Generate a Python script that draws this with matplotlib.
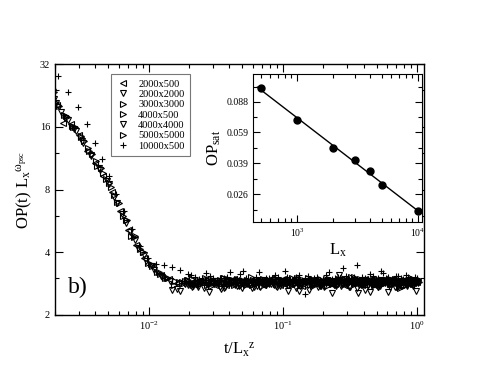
import matplotlib

matplotlib.use("Agg")
import matplotlib.pyplot as plt
import numpy as np
from matplotlib.ticker import FixedLocator, FixedFormatter, NullFormatter, LogLocator

plt.rcParams["font.family"] = ["Liberation Serif", "DejaVu Serif"]
plt.rcParams["mathtext.default"] = "regular"

# ---- main panel data: t/Lx^z and OP(t) Lx^omega for each lattice ----
labels = ["2000x500", "2000x2000", "3000x3000", "4000x500",
          "4000x4000", "5000x5000", "10000x500"]
markers = ["<", "v", ">", ">", "v", ">", "+"]

x_2000x500 = [0.00207, 0.00228, 0.00262, 0.00300, 0.00345, 0.00400, 0.00460, 0.00530,
              0.00610, 0.00700, 0.00810, 0.00930, 0.0107, 0.0123, 0.0142,
              0.0165, 0.019, 0.022, 0.025, 0.029, 0.033, 0.038, 0.043, 0.049, 0.056,
              0.063, 0.071, 0.080, 0.090, 0.101, 0.113, 0.126, 0.140, 0.156, 0.173,
              0.192, 0.212, 0.234, 0.258, 0.284, 0.312, 0.342, 0.375, 0.410, 0.448,
              0.489, 0.533, 0.580, 0.630, 0.684, 0.742, 0.804, 0.870, 0.940, 1.01]
y_2000x500 = [20.4, 16.7, 16.5, 14.6, 12.3, 10.7, 9.3, 7.8, 6.3, 5.1, 4.35, 3.75, 3.38,
              3.10, 2.97,
              2.86, 2.92, 2.80, 2.95, 2.84, 2.90, 2.78, 2.97, 2.88, 2.83, 2.93, 2.79,
              2.91, 2.86, 2.99, 2.82, 2.89, 2.76, 2.94, 2.87, 2.81, 2.96, 2.85, 2.90,
              2.78, 2.93, 2.88, 2.83, 2.98, 2.86, 2.80, 2.91, 2.87, 2.95, 2.82, 2.89,
              2.84, 2.92, 2.86, 2.88]
x_2000x500_late = [0.0205, 0.0235, 0.027, 0.031, 0.0355, 0.0405, 0.046, 0.052, 0.0595,
                   0.067, 0.0755, 0.085, 0.095, 0.107, 0.119, 0.133, 0.148, 0.164, 0.182,
                   0.202, 0.223, 0.246, 0.271, 0.298, 0.327, 0.358, 0.392, 0.429, 0.468,
                   0.51, 0.555, 0.605, 0.657, 0.713, 0.773, 0.837, 0.905, 0.975]
y_2000x500_late = [2.83, 2.91, 2.87, 2.79, 2.94, 2.85, 2.90, 2.81, 2.96, 2.88, 2.84, 2.92,
                   2.78, 2.89, 2.95, 2.83, 2.87, 2.91, 2.80, 2.93, 2.86, 2.82, 2.97, 2.88,
                   2.84, 2.90, 2.79, 2.94, 2.87, 2.83, 2.91, 2.85, 2.96, 2.81, 2.89, 2.93,
                   2.84, 2.90]

x_2000x2000 = [0.00198, 0.00222, 0.00250, 0.00285, 0.00325, 0.00372, 0.00425, 0.00487,
               0.00555, 0.00635, 0.00728, 0.00835, 0.00955, 0.0109, 0.0125, 0.0148,
               0.017, 0.0198, 0.0228, 0.026, 0.0298, 0.034, 0.0388, 0.044, 0.050,
               0.057, 0.064, 0.072, 0.081, 0.091, 0.102, 0.114, 0.127, 0.142, 0.158,
               0.175, 0.194, 0.215, 0.237, 0.261, 0.287, 0.315, 0.345, 0.378, 0.413,
               0.451, 0.492, 0.536, 0.583, 0.633, 0.687, 0.745, 0.807, 0.873, 0.943,
               1.02]
y_2000x2000 = [21.8, 18.8, 17.2, 15.2, 13.4, 11.6, 10.1, 8.8, 7.4, 6.1, 5.0, 4.2, 3.62,
               3.30, 3.05, 2.63,
               2.62, 2.78, 2.85, 2.70, 2.88, 2.74, 2.91, 2.80, 2.69, 2.86, 2.77, 2.93,
               2.82, 2.72, 2.88, 2.79, 2.95, 2.84, 2.63, 2.87, 2.76, 2.90, 2.81, 3.12,
               2.86, 2.74, 2.92, 2.83, 2.65, 2.89, 2.78, 2.94, 2.84, 2.71, 2.88, 2.80,
               2.91, 2.85, 2.76, 2.87]
x_2000x2000_late = [0.0212, 0.0243, 0.0278, 0.0318, 0.0363, 0.0413, 0.0468, 0.053,
                    0.0605, 0.068, 0.0765, 0.086, 0.0965, 0.1085, 0.121, 0.135, 0.150,
                    0.166, 0.184, 0.204, 0.226, 0.249, 0.274, 0.301, 0.330, 0.362, 0.396,
                    0.433, 0.472, 0.515, 0.560, 0.610, 0.662, 0.718, 0.778, 0.842, 0.910,
                    0.982]
y_2000x2000_late = [2.74, 2.86, 2.80, 2.91, 2.70, 2.84, 2.77, 2.89, 2.82, 2.73, 2.87,
                    2.79, 2.92, 2.60, 2.85, 2.76, 2.90, 2.81, 2.72, 2.88, 2.83, 2.75,
                    2.93, 2.80, 2.86, 2.55, 2.89, 2.78, 2.84, 2.71, 2.91, 2.82, 2.87,
                    2.76, 2.90, 2.79, 2.85, 2.62]

x_3000x3000 = [0.00196, 0.00215, 0.00240, 0.00272, 0.00310, 0.00352, 0.00402, 0.00460,
               0.00525, 0.00600, 0.00688, 0.00790, 0.00905, 0.0104, 0.0119, 0.0137,
               0.0158, 0.0182, 0.021, 0.024, 0.0275, 0.0315, 0.036, 0.041, 0.0465,
               0.053, 0.060, 0.068, 0.077, 0.087, 0.098, 0.110, 0.123, 0.137, 0.153,
               0.170, 0.189, 0.209, 0.231, 0.255, 0.281, 0.309, 0.339, 0.371, 0.406,
               0.444, 0.485, 0.529, 0.576, 0.626, 0.680, 0.738, 0.800, 0.866, 0.936,
               1.005]
y_3000x3000 = [23.5, 20.2, 18.0, 16.0, 14.4, 12.6, 11.0, 9.6, 8.2, 6.9, 5.7, 4.8, 4.0,
               3.50, 3.20, 3.00,
               2.92, 2.86, 2.98, 2.83, 2.94, 2.88, 3.01, 2.85, 2.93, 2.80, 2.96, 2.89,
               2.84, 3.00, 2.87, 2.93, 2.81, 2.97, 2.90, 2.85, 2.99, 2.88, 2.94, 2.83,
               3.02, 2.89, 2.86, 2.95, 2.80, 2.92, 2.98, 2.87, 2.84, 2.96, 2.90, 2.71,
               2.93, 2.88, 2.97, 2.91]
x_3000x3000_late = [0.0198, 0.0228, 0.0262, 0.030, 0.0343, 0.0392, 0.0447, 0.0508,
                    0.0578, 0.0655, 0.074, 0.0835, 0.094, 0.1055, 0.118, 0.1315, 0.146,
                    0.162, 0.18, 0.20, 0.221, 0.244, 0.268, 0.295, 0.324, 0.355, 0.389,
                    0.425, 0.464, 0.506, 0.551, 0.600, 0.652, 0.708, 0.768, 0.832, 0.900,
                    0.970]
y_3000x3000_late = [2.95, 2.88, 3.00, 2.85, 2.93, 2.98, 2.87, 2.91, 3.03, 2.84, 2.96,
                    2.89, 2.94, 2.86, 3.01, 2.90, 2.83, 2.97, 2.92, 2.87, 2.99, 2.85,
                    2.93, 2.89, 3.04, 2.86, 2.95, 2.91, 2.84, 2.98, 2.88, 2.94, 2.82,
                    2.96, 2.90, 2.87, 3.00, 2.92]

x_4000x500 = [0.00200, 0.00232, 0.00268, 0.00310, 0.00358, 0.00415, 0.00480, 0.00555,
              0.00642, 0.00742, 0.00858, 0.00992, 0.0115, 0.0133,
              0.0155, 0.0178, 0.0205, 0.0235, 0.027, 0.0308, 0.0352, 0.040, 0.0455,
              0.0518, 0.0588, 0.0665, 0.075, 0.0845, 0.095, 0.107, 0.120, 0.134, 0.150,
              0.167, 0.186, 0.206, 0.228, 0.252, 0.278, 0.306, 0.336, 0.368, 0.403,
              0.441, 0.482, 0.526, 0.573, 0.623, 0.677, 0.735, 0.797, 0.863, 0.933, 1.0]
y_4000x500 = [21.0, 18.2, 16.2, 14.3, 12.3, 10.4, 9.0, 7.5, 6.0, 4.8, 4.15, 3.55, 3.20,
              3.00,
              2.80, 2.89, 2.84, 2.95, 2.78, 2.91, 2.86, 2.82, 2.97, 2.87, 2.79, 2.93,
              2.85, 2.90, 2.81, 2.96, 2.88, 2.83, 2.92, 2.77, 2.94, 2.86, 2.89, 2.80,
              2.95, 2.84, 2.91, 2.87, 2.82, 2.93, 2.79, 2.90, 2.85, 2.96, 2.83, 2.88,
              2.92, 2.86, 2.81, 2.90]
x_4000x500_late = [0.0192, 0.022, 0.0252, 0.0289, 0.033, 0.0376, 0.0428, 0.0486, 0.0552,
                   0.0625, 0.0705, 0.0795, 0.0895, 0.1005, 0.1125, 0.1255, 0.140, 0.156,
                   0.173, 0.192, 0.213, 0.236, 0.260, 0.286, 0.314, 0.344, 0.377, 0.412,
                   0.450, 0.491, 0.535, 0.582, 0.632, 0.686, 0.744, 0.806, 0.872, 0.943]
y_4000x500_late = [2.86, 2.81, 2.92, 2.77, 2.88, 2.84, 2.95, 2.80, 2.90, 2.86, 2.75, 2.93,
                   2.83, 2.89, 2.79, 2.94, 2.85, 2.91, 2.82, 2.88, 2.76, 2.92, 2.87, 2.83,
                   2.96, 2.81, 2.89, 2.85, 2.93, 2.78, 2.90, 2.86, 2.82, 2.94, 2.88, 2.80,
                   2.91, 2.85]

x_4000x4000 = [0.00203, 0.00236, 0.00275, 0.00320, 0.00372, 0.00432, 0.00502, 0.00584,
               0.00678, 0.00788, 0.00915, 0.0106, 0.0124, 0.0144,
               0.0162, 0.0186, 0.0214, 0.0245, 0.0282, 0.0322, 0.0368, 0.042, 0.0478,
               0.0543, 0.0615, 0.0695, 0.0785, 0.0885, 0.0995, 0.112, 0.125, 0.139,
               0.155, 0.172, 0.191, 0.211, 0.233, 0.257, 0.283, 0.311, 0.341, 0.373,
               0.408, 0.446, 0.487, 0.531, 0.578, 0.628, 0.682, 0.740, 0.802, 0.868,
               0.938, 1.015]
y_4000x4000 = [20.8, 17.7, 15.6, 13.6, 11.7, 9.9, 8.5, 6.9, 5.5, 4.6, 3.9, 3.42, 3.08,
               2.92,
               2.68, 2.82, 2.75, 2.88, 2.58, 2.84, 2.73, 2.90, 2.79, 2.86, 2.71, 2.89,
               2.81, 2.76, 2.92, 2.84, 2.70, 2.87, 2.80, 2.91, 2.77, 2.85, 2.56, 2.89,
               2.82, 2.74, 2.88, 2.79, 2.93, 2.57, 2.84, 2.76, 2.90, 2.82, 2.73, 2.87,
               2.80, 2.91, 2.78, 2.85]
x_4000x4000_late = [0.0202, 0.0232, 0.0266, 0.0305, 0.0348, 0.0398, 0.0453, 0.0515,
                    0.0585, 0.0662, 0.0748, 0.0843, 0.0948, 0.1065, 0.1192, 0.133, 0.148,
                    0.164, 0.182, 0.202, 0.224, 0.247, 0.272, 0.299, 0.328, 0.360, 0.394,
                    0.431, 0.470, 0.512, 0.558, 0.607, 0.660, 0.716, 0.776, 0.840, 0.908,
                    0.978]
y_4000x4000_late = [2.79, 2.72, 2.86, 2.81, 2.66, 2.89, 2.77, 2.84, 2.70, 2.88, 2.80,
                    2.93, 2.75, 2.83, 2.87, 2.60, 2.90, 2.78, 2.84, 2.72, 2.91, 2.81,
                    2.76, 2.88, 2.83, 2.69, 2.90, 2.79, 2.86, 2.74, 2.92, 2.58, 2.85,
                    2.80, 2.88, 2.75, 2.83, 2.89]

x_5000x5000 = [0.00194, 0.00212, 0.00245, 0.00282, 0.00327, 0.00378, 0.00437, 0.00506,
               0.00585, 0.00676, 0.00782, 0.00905, 0.0105, 0.0121, 0.0140,
               0.0168, 0.0194, 0.0223, 0.0256, 0.0293, 0.0335, 0.0383, 0.0435, 0.0495,
               0.0562, 0.0635, 0.0716, 0.0805, 0.0905, 0.1015, 0.114, 0.1275, 0.142,
               0.158, 0.176, 0.195, 0.216, 0.238, 0.262, 0.288, 0.316, 0.346, 0.379,
               0.414, 0.452, 0.493, 0.537, 0.584, 0.634, 0.688, 0.746, 0.808, 0.874,
               0.945, 1.03]
y_5000x5000 = [24.2, 20.3, 17.8, 15.9, 13.7, 11.8, 10.2, 8.6, 7.0, 5.7, 4.75, 4.0, 3.45,
               3.15, 3.00,
               2.88, 2.95, 2.83, 2.91, 2.97, 2.86, 2.93, 2.80, 2.96, 2.89, 2.84, 2.99,
               2.87, 2.92, 2.82, 2.94, 3.00, 2.85, 2.90, 2.96, 2.83, 2.91, 2.88, 2.97,
               2.84, 2.93, 2.89, 2.98, 2.86, 2.92, 2.81, 2.95, 2.90, 2.87, 2.99, 2.70,
               2.91, 2.86, 2.94, 2.89]
x_5000x5000_late = [0.0185, 0.0212, 0.0244, 0.028, 0.032, 0.0366, 0.0416, 0.0473,
                    0.0537, 0.0608, 0.0688, 0.0775, 0.087, 0.0978, 0.1098, 0.1228, 0.137,
                    0.153, 0.170, 0.189, 0.210, 0.232, 0.256, 0.282, 0.310, 0.340, 0.373,
                    0.408, 0.446, 0.487, 0.531, 0.578, 0.628, 0.682, 0.740, 0.802, 0.868,
                    0.940]
y_5000x5000_late = [2.91, 2.97, 2.86, 2.94, 2.89, 3.00, 2.84, 2.92, 2.96, 2.87, 2.93,
                    2.82, 2.98, 2.90, 2.86, 2.95, 2.88, 3.02, 2.85, 2.92, 2.97, 2.83,
                    2.90, 2.94, 2.88, 3.05, 2.86, 2.93, 2.89, 2.96, 2.84, 2.91, 2.99,
                    2.87, 2.93, 2.75, 2.90, 2.96]

x_10000x500 = [0.00209, 0.00249, 0.00295, 0.00344, 0.00395, 0.00446, 0.00505, 0.00575,
               0.00655, 0.00750, 0.00860, 0.00990, 0.0114, 0.0131, 0.0150, 0.0172,
               0.0195, 0.0222, 0.0252, 0.0285, 0.0322, 0.0362, 0.0405, 0.0452, 0.0505,
               0.0565, 0.0632, 0.0705, 0.0785, 0.0875, 0.0975, 0.108, 0.120, 0.133,
               0.147, 0.163, 0.181, 0.200, 0.221, 0.244, 0.269, 0.296, 0.326, 0.358,
               0.393, 0.431, 0.472, 0.516, 0.563, 0.614, 0.668, 0.727, 0.790, 0.857,
               0.928, 1.0]
y_10000x500 = [28.0, 23.5, 19.9, 16.5, 13.4, 11.2, 9.3, 7.6, 6.3, 5.2, 4.3, 3.75, 3.50,
               3.48, 3.38, 3.28,
               3.15, 3.05, 2.96, 3.08, 2.92, 3.02, 3.21, 2.98, 3.24, 2.94, 3.05, 2.90,
               3.00, 3.12, 2.93, 3.03, 2.96, 3.10, 2.51, 2.99, 3.06, 2.92, 3.22, 3.01,
               2.95, 3.07, 2.97, 3.47, 3.04, 2.93, 3.09, 3.00, 3.18, 3.03, 2.96, 3.07,
               2.99, 3.04, 2.94, 3.01]
x_10000x500_late = [0.0208, 0.0237, 0.0268, 0.0303, 0.0342, 0.0383, 0.0428, 0.0478,
                    0.0535, 0.0598, 0.0668, 0.0745, 0.083, 0.0925, 0.103, 0.114, 0.1265,
                    0.140, 0.155, 0.172, 0.190, 0.210, 0.232, 0.256, 0.282, 0.311, 0.342,
                    0.375, 0.412, 0.451, 0.494, 0.539, 0.588, 0.641, 0.697, 0.758, 0.823,
                    0.892, 0.965]
y_10000x500_late = [3.10, 2.97, 3.18, 3.01, 2.95, 3.06, 2.93, 3.13, 3.00, 2.96, 3.20,
                    3.02, 2.94, 3.05, 3.26, 2.98, 3.04, 2.93, 3.08, 3.00, 2.95, 3.11,
                    2.97, 3.03, 3.35, 2.99, 3.06, 2.94, 3.02, 3.14, 2.97, 3.24, 3.01,
                    2.95, 3.07, 3.00, 3.10, 2.96, 3.03]

series_x = [x_2000x500 + x_2000x500_late, x_2000x2000 + x_2000x2000_late,
            x_3000x3000 + x_3000x3000_late, x_4000x500 + x_4000x500_late,
            x_4000x4000 + x_4000x4000_late, x_5000x5000 + x_5000x5000_late,
            x_10000x500 + x_10000x500_late]
series_y = [y_2000x500 + y_2000x500_late, y_2000x2000 + y_2000x2000_late,
            y_3000x3000 + y_3000x3000_late, y_4000x500 + y_4000x500_late,
            y_4000x4000 + y_4000x4000_late, y_5000x5000 + y_5000x5000_late,
            y_10000x500 + y_10000x500_late]

main_yticks = [2, 4, 8, 16, 32]
main_yminor = [3, 6, 12, 24]

# ---- inset data: saturation order parameter vs Lx ----
Lx = [500, 1000, 2000, 3000, 4000, 5000, 10000]
OP_sat = [0.1052, 0.0696, 0.0478, 0.0410, 0.0351, 0.0295, 0.0208]
fit_range = [470, 10000]
inset_yticks = [0.026, 0.039, 0.059, 0.088]
inset_ytick_labels = ["0.026", "0.039", "0.059", "0.088"]
inset_yminor = [0.0212, 0.0318, 0.0478, 0.0717, 0.1075]

fig = plt.figure(figsize=(4.91, 3.82), dpi=100)

ax = fig.add_axes([0.112, 0.1754, 0.7515, 0.657])
for xs, ys, m, lab in zip(series_x, series_y, markers, labels):
    ax.plot(xs, ys, ls="none", marker=m, mfc="none", mec="k", color="k",
            ms=4.5, mew=0.8, label=lab)

ax.set_xscale("log")
ax.set_yscale("log", base=2)
ax.set_xlim(0.002, 1.13)
ax.set_ylim(2, 32)
ax.yaxis.set_major_locator(FixedLocator(main_yticks))
ax.yaxis.set_major_formatter(FixedFormatter([str(v) for v in main_yticks]))
ax.yaxis.set_minor_locator(FixedLocator(main_yminor))
ax.yaxis.set_minor_formatter(NullFormatter())
ax.xaxis.set_minor_locator(LogLocator(base=10, subs=np.arange(2, 10)))
ax.xaxis.set_minor_formatter(NullFormatter())
ax.tick_params(which="both", direction="in", top=True, right=True, labelsize=7.5,
               width=0.8)
ax.tick_params(which="major", length=6)
ax.tick_params(which="minor", length=3)
for s in ax.spines.values():
    s.set_linewidth(1.0)

ax.set_xlabel(r"t/L$_x$$^z$", fontsize=12, labelpad=6)
ax.set_ylabel(r"OP(t) L$_x$$^{\omega_{psc}}$", fontsize=12, labelpad=4)
ax.text(0.035, 0.108, "b)", transform=ax.transAxes, fontsize=17,
        ha="left", va="center")

leg = ax.legend(loc="upper left", bbox_to_anchor=(0.152, 0.96), borderaxespad=0,
                fontsize=7.5, frameon=True, fancybox=False, handlelength=1.2,
                handletextpad=0.9, labelspacing=0.1, borderpad=0.5)
leg.get_frame().set_edgecolor("#555555")
leg.get_frame().set_linewidth(0.8)

# inset
ins = fig.add_axes([0.5153, 0.4188, 0.3442, 0.3874])
coef = np.polyfit(np.log10(Lx), np.log10(OP_sat), 1)
xf = np.array(fit_range, dtype=float)
ins.plot(xf, 10 ** np.polyval(coef, np.log10(xf)), color="k", lw=1.0)
ins.plot(Lx, OP_sat, ls="none", marker="o", color="k", ms=5)
ins.set_xscale("log")
ins.set_yscale("log")
ins.set_xlim(433, 10800)
ins.set_ylim(0.018, 0.127)
ins.yaxis.set_major_locator(FixedLocator(inset_yticks))
ins.yaxis.set_major_formatter(FixedFormatter(inset_ytick_labels))
ins.yaxis.set_minor_locator(FixedLocator(inset_yminor))
ins.yaxis.set_minor_formatter(NullFormatter())
ins.xaxis.set_minor_locator(LogLocator(base=10, subs=np.arange(2, 10)))
ins.xaxis.set_minor_formatter(NullFormatter())
ins.tick_params(which="both", direction="in", top=True, right=True, labelsize=7,
                width=0.8)
ins.tick_params(which="major", length=5)
ins.tick_params(which="minor", length=3)
ins.set_xlabel(r"L$_x$", fontsize=12, labelpad=2)
ins.set_ylabel(r"OP$_{sat}$", fontsize=12, labelpad=2)

fig.savefig("out.png", dpi=100)
